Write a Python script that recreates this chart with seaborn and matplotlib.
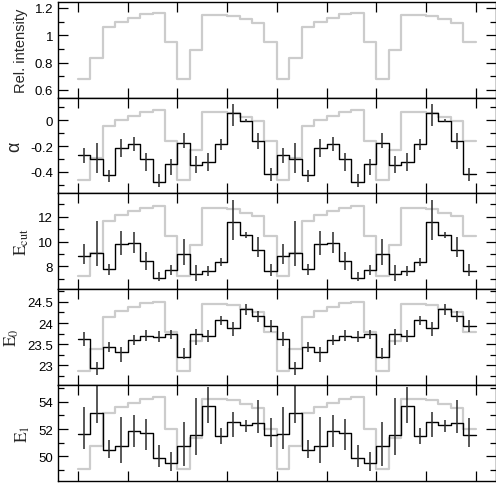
import numpy as np
import pandas as pd
import matplotlib
matplotlib.use("Agg")
import matplotlib.pyplot as plt
import seaborn as sns
from matplotlib.ticker import MultipleLocator, FuncFormatter

# ---------------- data (one pulse period, 16 phase bins; shown twice) ----------------
n_bins = 16
n_cycles = 2

# pulse profile (relative intensity)
profile = [0.683, 0.836, 1.057, 1.098, 1.125, 1.152, 1.163, 0.953,
           0.683, 0.891, 1.150, 1.150, 1.143, 1.115, 1.090, 0.953]

# photon index alpha: value, upper, lower
alpha_val = [-0.269, -0.297, -0.426, -0.213, -0.182, -0.303, -0.474, -0.341,
             -0.179, -0.346, -0.323, -0.182, 0.056, -0.003, -0.162, -0.418]
alpha_hi = [-0.213, -0.174, -0.385, -0.144, -0.128, -0.251, -0.418, -0.303,
            -0.103, -0.277, -0.256, -0.149, 0.128, 0.010, -0.097, -0.367]
alpha_lo = [-0.328, -0.405, -0.477, -0.282, -0.238, -0.392, -0.513, -0.426,
            -0.213, -0.410, -0.392, -0.231, -0.046, -0.016, -0.221, -0.469]

# cutoff energy
ecut_val = [8.86, 9.08, 7.76, 9.77, 9.86, 8.43, 7.04, 7.71,
            8.97, 7.36, 7.63, 8.38, 11.60, 10.53, 9.32, 7.58]
ecut_hi = [9.77, 11.65, 8.17, 10.85, 10.80, 9.13, 7.52, 8.06,
           10.20, 8.06, 7.98, 8.65, 13.34, 10.74, 10.39, 8.17]
ecut_lo = [8.17, 7.98, 7.31, 8.92, 9.05, 7.71, 6.77, 7.31,
           8.06, 6.83, 7.17, 7.98, 10.12, 10.26, 8.78, 7.17]

# E0
e0_val = [23.63, 22.95, 23.44, 23.32, 23.61, 23.70, 23.67, 23.75,
          23.20, 23.73, 23.69, 24.06, 23.89, 24.32, 24.16, 23.93]
e0_hi = [23.79, 23.09, 23.55, 23.44, 23.71, 23.84, 23.81, 23.84,
         23.40, 23.87, 23.83, 24.16, 24.02, 24.44, 24.28, 24.06]
e0_lo = [23.45, 22.77, 23.32, 23.09, 23.48, 23.58, 23.55, 23.63,
         23.14, 23.48, 23.55, 23.95, 23.69, 24.18, 24.02, 23.79]

# E1
e1_val = [51.60, 53.17, 50.43, 50.78, 51.88, 51.68, 49.89, 49.51,
          50.76, 51.55, 53.67, 51.50, 52.55, 52.30, 52.47, 51.55]
e1_hi = [53.59, 55.16, 51.23, 52.92, 53.04, 52.72, 50.86, 50.31,
         52.55, 54.29, 55.11, 52.05, 53.29, 52.67, 54.16, 52.80]
e1_lo = [50.56, 52.47, 49.89, 49.51, 50.68, 50.43, 49.19, 48.89,
         49.31, 50.06, 52.42, 50.93, 51.43, 51.80, 51.68, 50.68]

# y-labels, axis limits, tick steps and where the scaled profile sits in each panel
labels = ["Rel. intensity", "α", r"$\mathrm{E_{cut}}$", r"$\mathrm{E_0}$", r"$\mathrm{E_1}$"]
ylims = [(0.545, 1.245), (-0.565, 0.175), (6.15, 13.9), (22.54, 24.8), (48.2, 55.25)]
major_steps = [0.2, 0.2, 2, 0.5, 2]
minor_steps = [0.1, 0.1, 1, 0.25, 1]
gray_range = [(0.683, 1.163), (-0.462, 0.077), (7.25, 12.88), (22.87, 24.50), (49.06, 54.34)]

# ---------------- style ----------------
sns.set_theme(style="ticks")
plt.rcParams["font.family"] = ["Liberation Sans", "DejaVu Sans"]
plt.rcParams["mathtext.fontset"] = "stix"
plt.rcParams["axes.unicode_minus"] = False

fig = plt.figure(figsize=(4.96, 4.85), dpi=100)
left, right = 58.1 / 496, 495.6 / 496
top, bottom = 1 - 2.7 / 485, 1 - 481.7 / 485
h = (top - bottom) / 5
axes = [fig.add_axes([left, top - (i + 1) * h, right - left, h]) for i in range(5)]

edges = np.arange(n_bins * n_cycles + 1) / n_bins
centers = (edges[:-1] + edges[1:]) / 2

prof = np.tile(profile, n_cycles)
pmin, pmax = min(profile), max(profile)

series = [None,
          (alpha_val, alpha_lo, alpha_hi),
          (ecut_val, ecut_lo, ecut_hi),
          (e0_val, e0_lo, e0_hi),
          (e1_val, e1_lo, e1_hi)]

gray = "#cccccc"
fmt = FuncFormatter(lambda v, p: "%g" % round(v, 3))
label_sizes = [10.5, 13, 12.5, 12.5, 12.5]

for i, ax in enumerate(axes):
    glo, ghi = gray_range[i]
    gy = glo + (prof - pmin) / (pmax - pmin) * (ghi - glo)
    gdf = pd.DataFrame({"x": edges, "y": np.append(gy, gy[-1])})
    sns.lineplot(data=gdf, x="x", y="y", ax=ax, color=gray, lw=1.6,
                 drawstyle="steps-post", estimator=None, sort=False)
    if series[i] is not None:
        v, lo, hi = (np.tile(s, n_cycles) for s in series[i])
        df = pd.DataFrame({"x": edges, "y": np.append(v, v[-1])})
        sns.lineplot(data=df, x="x", y="y", ax=ax, color="black", lw=1.0,
                     drawstyle="steps-post", estimator=None, sort=False)
        ax.errorbar(centers, v, yerr=[v - lo, hi - v], fmt="none",
                    ecolor="#2a2a2a", elinewidth=1.1, capsize=0)
    ax.set_xlim(-0.1, 2.1)
    ax.set_ylim(*ylims[i])
    ax.xaxis.set_major_locator(MultipleLocator(0.25))
    ax.yaxis.set_major_locator(MultipleLocator(major_steps[i]))
    ax.yaxis.set_minor_locator(MultipleLocator(minor_steps[i]))
    ax.yaxis.set_major_formatter(fmt)
    ax.tick_params(axis="both", which="both", direction="in", top=True, right=True,
                   labelbottom=False, labelsize=9.5, width=0.9, colors="black")
    ax.tick_params(which="major", length=7)
    ax.tick_params(which="minor", length=4)
    ax.set_xlabel("")
    ax.set_ylabel(labels[i], fontsize=label_sizes[i], labelpad=5)
    for s in ax.spines.values():
        s.set_linewidth(1.0)
        s.set_color("black")

fig.savefig("out.png", dpi=100)
